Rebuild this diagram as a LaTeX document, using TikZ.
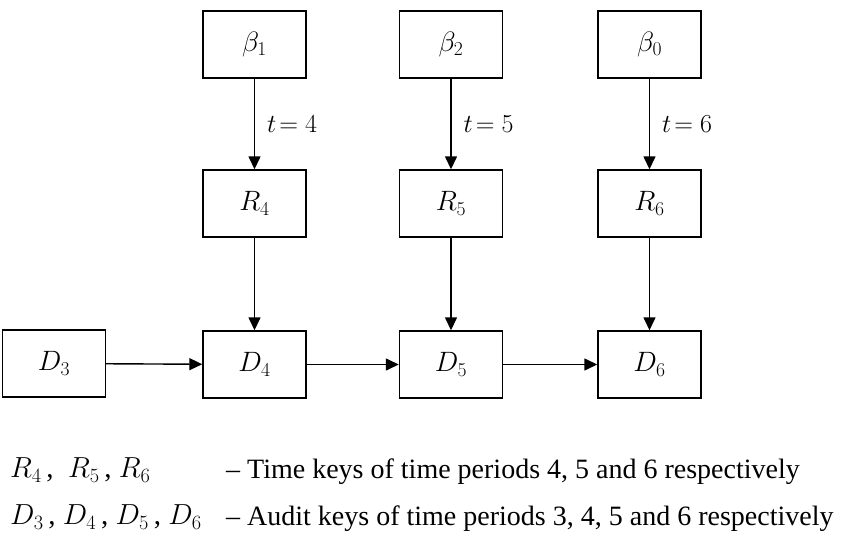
\RequirePackage{fix-cm}
\documentclass[tikz,border=0pt]{standalone}
\usepackage{fontspec}
\setmainfont{Liberation Serif}
\usetikzlibrary{arrows.meta}
\begin{document}
\begin{tikzpicture}[x=1pt,y=-1pt,
  keybox/.style={draw,line width=1.4pt,minimum width=103pt,minimum height=67pt,inner sep=0pt,font=\fontsize{28}{30}\selectfont},
  arr/.style={line width=1.4pt,-{Triangle[length=13pt,width=12pt]}},
  lbl/.style={font=\fontsize{26}{30}\selectfont,inner sep=0pt,anchor=west},
  legm/.style={font=\fontsize{29}{30}\selectfont,inner sep=0pt,anchor=west},
  leg/.style={font=\fontsize{28}{30}\selectfont,inner sep=0pt,anchor=west}]
\useasboundingbox (0,0) rectangle (846,546);
\node[keybox] (b1) at (254.5,44.5) {$\beta_1$};
\node[keybox] (b2) at (451,44.5) {$\beta_2$};
\node[keybox] (b0) at (649.5,44.5) {$\beta_0$};
\node[keybox] (r4) at (254.5,203.5) {$R_4$};
\node[keybox] (r5) at (451,203.5) {$R_5$};
\node[keybox] (r6) at (649.5,203.5) {$R_6$};
\node[keybox] (d3) at (54,363.5) {$D_3$};
\node[keybox] (d4) at (254.5,364.5) {$D_4$};
\node[keybox] (d5) at (451,364.5) {$D_5$};
\node[keybox] (d6) at (649.5,364.5) {$D_6$};
\draw[arr] (b1) -- node[lbl,xshift=12pt] (t4) {$t\!=4$} (r4);
\draw[arr] (b2) -- node[lbl,xshift=12pt] (t5) {$t\!=5$} (r5);
\draw[arr] (b0) -- node[lbl,xshift=12pt] (t6) {$t\!=6$} (r6);
\draw[arr] (r4) -- (d4);
\draw[arr] (r5) -- (d5);
\draw[arr] (r6) -- (d6);
\draw[arr] (d3) -- (d4);
\draw[arr] (d4) -- (d5);
\draw[arr] (d5) -- (d6);
\node[legm] (l1) at (10,470) {$R_4$\,,\ \ $R_5$\,, $R_6$};
\node[leg] (l1t) at (226,472) {– Time keys of time periods 4, 5 and 6 respectively};
\node[legm] (l2) at (10,517) {$D_3$\,, $D_4$\,, $D_5$\,, $D_6$};
\node[leg] (l2t) at (226,519) {– Audit keys of time periods 3, 4, 5 and 6 respectively};
\end{tikzpicture}
\end{document}
